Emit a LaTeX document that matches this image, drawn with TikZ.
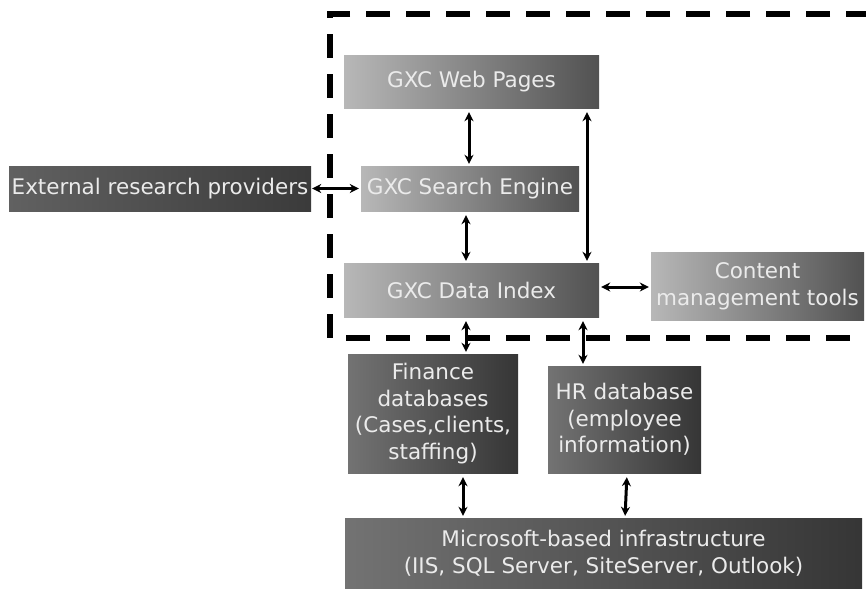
\documentclass[tikz,border=0pt]{standalone}
\usepackage{fontspec}
\setmainfont{DejaVu Sans}
\usetikzlibrary{arrows.meta}

\begin{document}
\begin{tikzpicture}[x=1pt, y=-1pt,
    box/.style={inner sep=0pt, align=center, text=white!92!black,
                font=\fontsize{21.5}{26.5}\selectfont},
    lite/.style={box, left color=black!28, right color=black!68},
    dark/.style={box, left color=black!55, right color=black!79},
    dbl/.style={{Stealth[length=9pt,width=9pt]}-{Stealth[length=9pt,width=9pt]},
                line width=3pt, shorten <=4pt, shorten >=2pt},
    frame/.style={line width=6pt, dash pattern=on 24pt off 16pt},
  ]
    \useasboundingbox (0,0) rectangle (866,590);

    % dashed system boundary (right side runs off the page)
    \draw[frame] (870,14) -- (330,14) -- (330,338) -- (870,338);

    % GXC system
    \node[lite, minimum width=255pt, minimum height=53pt] (web)    at (471.5,81.5) {GXC Web Pages};
    \node[lite, minimum width=218pt, minimum height=45pt] (search) at (470,188.5)  {GXC Search Engine};
    \node[lite, minimum width=255pt, minimum height=54pt] (index)  at (471.5,290)  {GXC Data Index};
    \node[lite, minimum width=213pt, minimum height=68pt] (cms)    at (757.5,286)  {Content\\management tools};

    % outside sources
    \node[dark, minimum width=302pt, minimum height=45pt, left color=black!62, right color=black!77]
      (ext) at (160,188.5) {External research providers};
    \node[dark, minimum width=170pt, minimum height=119pt] (fin) at (433,413.5)
      {Finance\\databases\\(Cases,clients,\\staffing)};
    \node[dark, minimum width=153pt, minimum height=107pt] (hr)  at (624.5,419.5)
      {HR database\\(employee\\information)};
    \node[dark, minimum width=517pt, minimum height=70pt] (ms)   at (603.5,553)
      {Microsoft-based infrastructure\\(IIS, SQL Server, SiteServer, Outlook)};

    % links
    \draw[dbl] ([xshift=-2.5pt]web.south) -- ([xshift=-1pt]search.north);
    \draw[dbl] ([xshift=-4pt]search.south) -- ([xshift=-5.5pt]index.north);
    \draw[dbl] ([xshift=115.5pt]web.south) -- ([xshift=115.5pt]index.north);
    \draw[dbl, shorten <=1pt] (ext.east) -- (search.west);
    \draw[dbl, shorten <=2pt] ([yshift=3pt]index.east) -- ([yshift=-1pt]cms.west);
    \draw[dbl] ([xshift=-5.5pt]index.south) -- ([xshift=33pt]fin.north);
    \draw[dbl] ([xshift=111.5pt]index.south) -- ([xshift=-41.5pt]hr.north);
    \draw[dbl] ([xshift=30pt]fin.south) -- ([xshift=-140.5pt]ms.north);
    \draw[dbl] ([xshift=2.5pt]hr.south) -- ([xshift=21.5pt]ms.north);
\end{tikzpicture}
\end{document}
